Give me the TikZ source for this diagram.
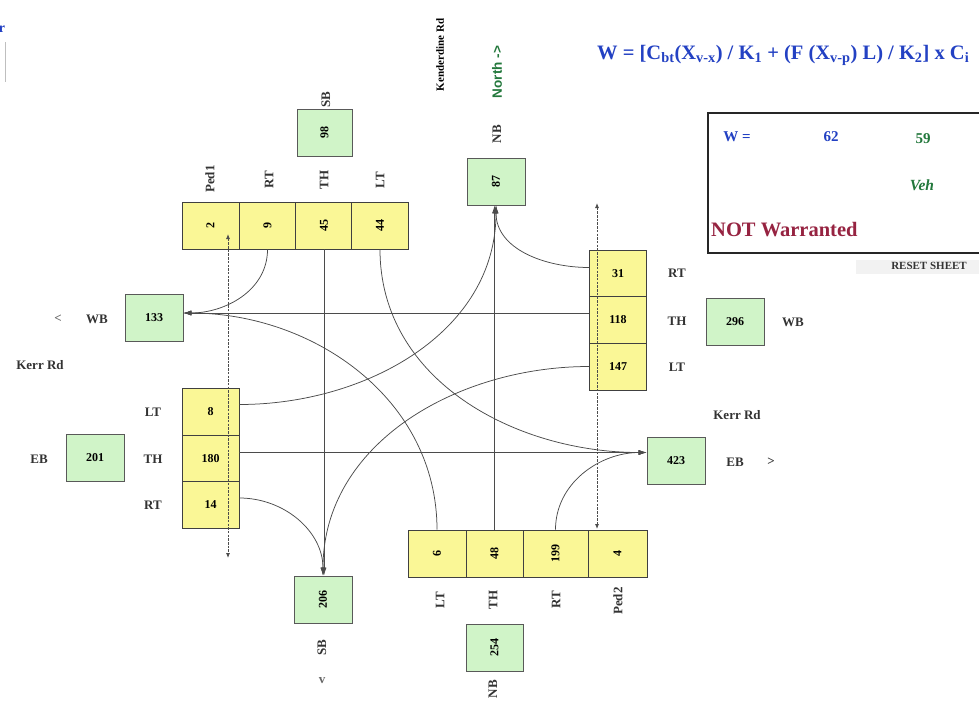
\documentclass[tikz,border=0pt]{standalone}
\usepackage{fontspec}
\setmainfont{Liberation Serif}
\newfontfamily\northfont{Liberation Sans}
\usepackage{graphicx}
\usetikzlibrary{arrows.meta}

\definecolor{cellYellow}{RGB}{250,247,150}
\definecolor{boxGreen}{RGB}{208,244,200}
\definecolor{formulaBlue}{RGB}{35,65,195}
\definecolor{countGreen}{RGB}{35,120,60}
\definecolor{warnRed}{RGB}{150,35,65}
\definecolor{lineGray}{RGB}{75,75,75}

\newcommand{\upText}[1]{\rotatebox{90}{#1}}

\tikzset{
	moveCell/.style={rectangle, draw=black!75, fill=cellYellow, line width=0.8pt, minimum width=57pt, minimum height=47pt, inner sep=0pt, font=\fontsize{12}{14}\selectfont\bfseries},
	volBox/.style={rectangle, draw=black!65, fill=boxGreen, line width=0.8pt, minimum width=58pt, minimum height=47pt, inner sep=0pt, font=\fontsize{12}{14}\selectfont\bfseries},
	dirLabel/.style={inner sep=1pt, font=\fontsize{13}{15}\selectfont\bfseries, text=black!80},
	flowLine/.style={draw=lineGray, line width=0.75pt, -{Latex[length=8pt,width=5pt]}},
	pedLine/.style={draw=black!70, line width=0.8pt, dash pattern=on 2.5pt off 1.2pt, {Latex[length=5pt,width=4pt]}-{Latex[length=5pt,width=4pt]}},
}

\begin{document}
\begin{tikzpicture}[x=1pt, y=-1pt]
\useasboundingbox[fill=white] (0,0) rectangle (979,702);

	\node[text=formulaBlue, font=\fontsize{14}{16}\selectfont\bfseries, inner sep=0pt](cutText) at (2,29){r};
	\draw[black!25, line width=0.8pt] (5,42) -- (5,82);

	% southbound approach (top)
	\node[volBox, minimum width=55pt](sbInBox) at (324.5,132.5){\upText{98}};
	\node[dirLabel, rotate=90](sbInLabel) at (326,100){SB};
	\node[moveCell](sbPed1) at (210.5,225.5){\upText{2}};
	\node[moveCell](sbRT) at (267.5,225.5){\upText{9}};
	\node[moveCell](sbTH) at (324,225.5){\upText{45}};
	\node[moveCell](sbLT) at (380,225.5){\upText{44}};
	\node[dirLabel, rotate=90](sbPed1Label) at (210,179){Ped1};
	\node[dirLabel, rotate=90](sbRTLabel) at (269,180){RT};
	\node[dirLabel, rotate=90](sbTHLabel) at (324,180){TH};
	\node[dirLabel, rotate=90](sbLTLabel) at (380,180){LT};

	% northbound exit (top)
	\node[volBox](nbOutBox) at (496,181.5){\upText{87}};
	\node[dirLabel, rotate=90](nbOutLabel) at (497,134){NB};
	\node[text=countGreen, font=\northfont\fontsize{13.5}{15}\selectfont\bfseries, rotate=90](northLabel) at (497,72){North ->};
	\node[font=\fontsize{11}{12}\selectfont\bfseries, rotate=90](kenderdineLabel) at (440,55){Kenderdine Rd};

	% warrant formula and result
	\node[anchor=west, text=formulaBlue, font=\fontsize{20.5}{22}\selectfont\bfseries, inner sep=0pt](formula) at (597,55){W = [C\textsubscript{bt}(X\textsubscript{v-x}) / K\textsubscript{1} + (F (X\textsubscript{v-p}) L) / K\textsubscript{2}] x C\textsubscript{i}};
	\node[rectangle, draw=black!85, line width=1.8pt, minimum width=290pt, minimum height=140pt, anchor=north west](resultBox) at (707,112){};
	\node[text=formulaBlue, font=\fontsize{15}{17}\selectfont\bfseries](wLabel) at (737,137){W =};
	\node[text=formulaBlue, font=\fontsize{15}{17}\selectfont\bfseries](wValue) at (831,137){62};
	\node[text=countGreen, font=\fontsize{15}{17}\selectfont\bfseries](vehValue) at (923,139){59};
	\node[text=countGreen, font=\fontsize{15.5}{17}\selectfont\bfseries\itshape](vehUnit) at (922,185){Veh};
	\node[text=warnRed, font=\fontsize{20.5}{22}\selectfont\bfseries, anchor=west, inner sep=0pt](warrantText) at (711,230){NOT Warranted};
	\node[rectangle, fill=black!5, minimum width=130pt, minimum height=14pt, anchor=west](resetButton) at (856,267){};
	\node[font=\fontsize{11}{12}\selectfont\bfseries, text=black!80](resetLabel) at (929,266){RESET SHEET};

	% westbound approach (right)
	\node[moveCell](wbRT) at (618,273.5){31};
	\node[moveCell](wbTH) at (618,320){118};
	\node[moveCell](wbLT) at (618,366.5){147};
	\node[dirLabel](wbRTLabel) at (677,273){RT};
	\node[dirLabel](wbTHLabel) at (677,321){TH};
	\node[dirLabel](wbLTLabel) at (677,367){LT};
	\node[volBox](wbInBox) at (735,321.5){296};
	\node[dirLabel](wbInLabel) at (793,322){WB};

	% eastbound exit (right)
	\node[dirLabel](kerrRightLabel) at (737,415){Kerr Rd};
	\node[volBox](ebOutBox) at (676,460.5){423};
	\node[dirLabel](ebOutLabel) at (735,462){EB};
	\node[dirLabel](ebOutArrow) at (771,462){>};

	% westbound exit (left)
	\node[dirLabel, text=black!60](wbOutArrow) at (58,319){<};
	\node[dirLabel](wbOutLabel) at (97,319){WB};
	\node[volBox](wbOutBox) at (154,318){133};
	\node[dirLabel](kerrLeftLabel) at (40,365){Kerr Rd};

	% eastbound approach (left)
	\node[moveCell](ebLT) at (210.5,411.5){8};
	\node[moveCell](ebTH) at (210.5,458.5){180};
	\node[moveCell](ebRT) at (210.5,505){14};
	\node[dirLabel](ebLTLabel) at (153,412){LT};
	\node[dirLabel](ebTHLabel) at (153,459){TH};
	\node[dirLabel](ebRTLabel) at (153,505){RT};
	\node[volBox](ebInBox) at (95,457.5){201};
	\node[dirLabel](ebInLabel) at (39,459){EB};

	% southbound exit (bottom)
	\node[volBox](sbOutBox) at (323,599.5){\upText{206}};
	\node[dirLabel, rotate=90](sbOutLabel) at (322,648){SB};
	\node[dirLabel, text=black!60](sbOutArrow) at (322,681){v};

	% northbound approach (bottom)
	\node[moveCell, minimum width=58pt](nbLT) at (437,553.5){\upText{6}};
	\node[moveCell](nbTH) at (494.5,553.5){\upText{48}};
	\node[moveCell, minimum width=65pt](nbRT) at (555.5,553.5){\upText{199}};
	\node[moveCell, minimum width=59pt](nbPed2) at (617.5,553.5){\upText{4}};
	\node[dirLabel, rotate=90](nbLTLabel) at (440,600){LT};
	\node[dirLabel, rotate=90](nbTHLabel) at (493,600){TH};
	\node[dirLabel, rotate=90](nbRTLabel) at (556,600){RT};
	\node[dirLabel, rotate=90](nbPed2Label) at (618,601){Ped2};
	\node[volBox, minimum width=57pt](nbInBox) at (494.5,647.5){\upText{254}};
	\node[dirLabel, rotate=90](nbInLabel) at (493,689){NB};

	% pedestrian crossings
	\coordinate(ped1Top) at (228,234);
	\coordinate(ped1Low) at (228,558);
	\coordinate(ped2Top) at (597,203);
	\coordinate(ped2Low) at (597,529);
	\draw[pedLine] (ped1Top) -- (ped1Low);
	\draw[pedLine] (ped2Top) -- (ped2Low);

	% turning movements
	\coordinate(wbOutIn) at ([yshift=5pt]wbOutBox.east);
	\coordinate(ebOutIn) at ([yshift=8pt]ebOutBox.west);
	\draw[flowLine] (sbRT.south) to[out=-90, in=0] (wbOutIn);
	\draw[flowLine] (wbTH.west |- wbOutIn) -- (wbOutIn);
	\draw[flowLine] (nbLT.north) to[out=90, in=0] (wbOutIn);
	\draw[flowLine] (ebTH.east |- ebOutIn) -- (ebOutIn);
	\draw[flowLine] (sbLT.south) to[out=-90, in=180] (ebOutIn);
	\draw[flowLine] (nbRT.north) to[out=90, in=180] (ebOutIn);
	\draw[flowLine] (sbTH.south) -- (sbTH.south |- sbOutBox.north);
	\draw[flowLine] ([yshift=7pt]ebRT.east) to[out=0, in=90] (sbOutBox.north);
	\draw[flowLine] (wbLT.west) to[out=180, in=90] (sbOutBox.north);
	\draw[flowLine] (nbTH.north) -- (nbTH.north |- nbOutBox.south);
	\draw[flowLine] ([yshift=7pt]ebLT.east) to[out=0, in=-90] (nbOutBox.south);
	\draw[flowLine] ([yshift=6pt]wbRT.west) to[out=180, in=-90] (nbOutBox.south);
\end{tikzpicture}
\end{document}
